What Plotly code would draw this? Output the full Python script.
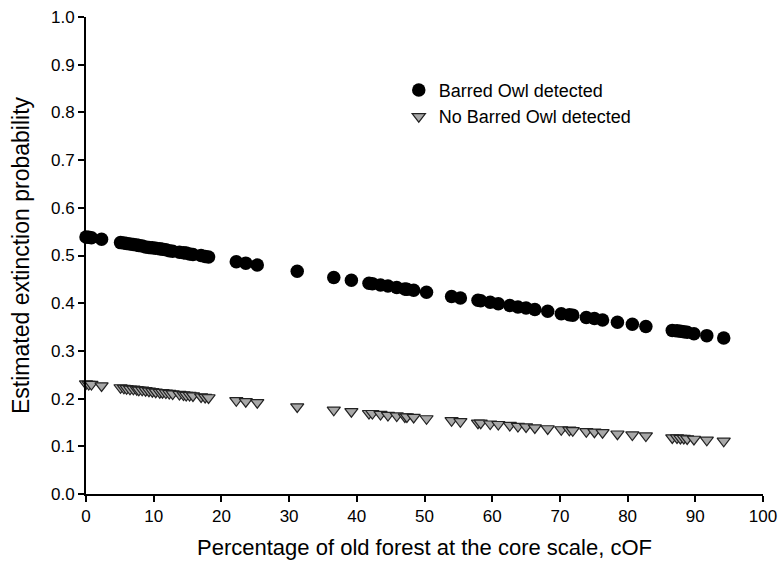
import plotly.graph_objects as go

cof = [0, 0.4, 0.8, 2.3, 5.1, 5.6, 6.0, 6.5, 7.0, 7.5, 7.8, 8.3, 8.8, 9.3, 9.8, 10.3,
       10.9, 11.3, 11.8, 12.3, 12.8, 13.8, 14.4, 14.8, 15.3, 15.8, 17.0, 17.6, 18.1,
       22.2, 23.6, 25.3, 31.2, 36.6, 39.2, 41.8, 42.3, 43.5, 44.6, 45.9, 47.1, 47.4,
       48.4, 50.3, 54.0, 55.3, 57.9, 58.3, 59.7, 60.9, 62.6, 63.8, 65.0, 66.3, 68.2,
       70.2, 71.4, 71.9, 73.9, 75.1, 76.3, 78.5, 80.7, 82.7, 86.6, 87.3, 87.8, 88.3,
       88.8, 89.8, 91.7, 94.2]

barred_owl = [0.539, 0.538, 0.537, 0.534, 0.527, 0.526, 0.525, 0.524, 0.523, 0.522,
              0.521, 0.520, 0.518, 0.517, 0.516, 0.515, 0.514, 0.513, 0.512, 0.510,
              0.509, 0.507, 0.506, 0.505, 0.503, 0.502, 0.500, 0.498, 0.497, 0.487,
              0.484, 0.480, 0.467, 0.454, 0.448, 0.442, 0.441, 0.438, 0.436, 0.433,
              0.430, 0.429, 0.427, 0.423, 0.414, 0.411, 0.406, 0.405, 0.402, 0.399,
              0.395, 0.392, 0.390, 0.387, 0.383, 0.378, 0.376, 0.375, 0.370, 0.368,
              0.365, 0.360, 0.356, 0.351, 0.343, 0.342, 0.341, 0.340, 0.339, 0.336,
              0.332, 0.327]

no_barred_owl = [0.231, 0.230, 0.230, 0.227, 0.223, 0.222, 0.221, 0.220, 0.220, 0.219,
                 0.218, 0.218, 0.217, 0.216, 0.215, 0.214, 0.213, 0.213, 0.212, 0.211,
                 0.210, 0.209, 0.208, 0.207, 0.207, 0.206, 0.204, 0.203, 0.202, 0.196,
                 0.194, 0.192, 0.183, 0.176, 0.173, 0.169, 0.169, 0.167, 0.165, 0.164,
                 0.162, 0.162, 0.161, 0.158, 0.154, 0.152, 0.149, 0.149, 0.147, 0.146,
                 0.144, 0.142, 0.141, 0.139, 0.137, 0.135, 0.134, 0.133, 0.131, 0.130,
                 0.129, 0.126, 0.124, 0.122, 0.118, 0.118, 0.117, 0.117, 0.116, 0.115,
                 0.113, 0.111]

x_ticks = [0, 10, 20, 30, 40, 50, 60, 70, 80, 90, 100]
y_ticks = [0.0, 0.1, 0.2, 0.3, 0.4, 0.5, 0.6, 0.7, 0.8, 0.9, 1.0]

FONT = "Liberation Sans, Arial, Helvetica, sans-serif"

fig = go.Figure()
fig.add_trace(go.Scatter(
    x=cof, y=barred_owl, mode="markers", name="Barred Owl detected",
    marker=dict(symbol="circle", size=13.5, color="black", line=dict(width=0)),
    cliponaxis=False,
))
fig.add_trace(go.Scatter(
    x=cof, y=no_barred_owl, mode="markers", name="No Barred Owl detected",
    marker=dict(symbol="triangle-down", size=11.5, color="#a8a8a8",
                line=dict(width=1.2, color="#222222")),
    cliponaxis=False,
))

fig.update_layout(
    width=780, height=566,
    margin=dict(l=86, r=17, t=17, b=72),
    paper_bgcolor="white", plot_bgcolor="white",
    font=dict(family=FONT, color="black", size=17),
    showlegend=True,
    legend=dict(x=0.462, y=0.885, xanchor="left", yanchor="top",
                bgcolor="rgba(0,0,0,0)", font=dict(size=18, family=FONT),
                itemwidth=30, tracegroupgap=0),
)
fig.update_xaxes(
    range=[0, 100], tickvals=x_ticks, ticktext=[str(v) for v in x_ticks],
    showgrid=False, zeroline=False, showline=True, linecolor="black", linewidth=2,
    ticks="outside", ticklen=6, tickwidth=2, tickcolor="black",
    tickfont=dict(size=17, family=FONT), automargin=False,
    title=dict(text="Percentage of old forest at the core scale, cOF",
               font=dict(size=22, family=FONT), standoff=14),
)
fig.update_yaxes(
    range=[0, 1.0], tickvals=y_ticks, ticktext=[f"{v:.1f}" for v in y_ticks],
    showgrid=False, zeroline=False, showline=True, linecolor="black", linewidth=2,
    ticks="outside", ticklen=6, tickwidth=2, tickcolor="black",
    tickfont=dict(size=17, family=FONT), automargin=False,
    title=dict(text="Estimated extinction probability",
               font=dict(size=23, family=FONT), standoff=15),
)

fig.write_html("out.html", config={"displayModeBar": False},
               post_script="document.body.style.margin='0';")
